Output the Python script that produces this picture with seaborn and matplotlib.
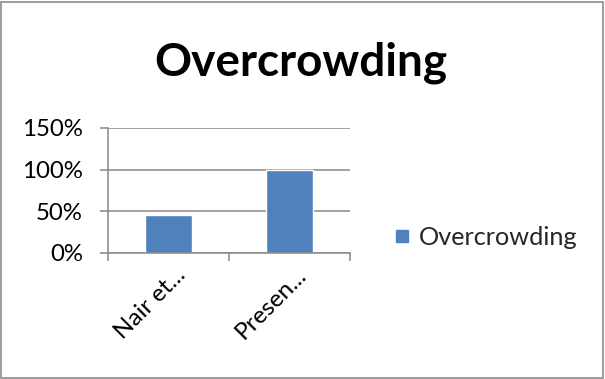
import matplotlib
matplotlib.use("Agg")
import matplotlib.pyplot as plt
import matplotlib.transforms as mtransforms
from matplotlib.patches import Rectangle
from matplotlib.lines import Line2D
import seaborn as sns
import pandas as pd

categories = ["Nair et...", "Presen..."]
values = [45, 100]
series_name = "Overcrowding"
y_ticks = [0, 50, 100, 150]
y_tick_labels = ["0%", "50%", "100%", "150%"]

sns.set_theme(style="white")
plt.rcParams["font.family"] = ["Lato", "DejaVu Sans"]

df = pd.DataFrame({"category": categories, "value": values})

fig = plt.figure(figsize=(6.05, 3.79), dpi=100)
fig.patch.set_facecolor("white")
ax = fig.add_axes([0.1785, 0.3325, 0.4, 0.3298])

bar_color = "#4f81bd"
sns.barplot(data=df, x="category", y="value", color=bar_color, width=0.39,
            saturation=1, ax=ax)

ax.set_ylim(0, 150)
ax.set_xlim(-0.5, 1.5)
ax.set_yticks(y_ticks)
ax.set_yticklabels(y_tick_labels, fontsize=17.3, color="#000000")
ax.yaxis.grid(True, color="#878787", linewidth=1.1)
ax.set_axisbelow(True)
ax.set_xlabel("")
ax.set_ylabel("")

for side in ["top", "right"]:
    ax.spines[side].set_visible(False)
for side in ["left", "bottom"]:
    ax.spines[side].set_color("#878787")
    ax.spines[side].set_linewidth(1.1)

ax.tick_params(axis="y", which="major", direction="out", length=6,
               width=1.1, color="#878787", pad=12, left=True)

# category labels rotated under the axis; ticks sit at category boundaries
ax.set_xticks([0, 1])
ax.set_xticklabels(categories, rotation=45, ha="right", rotation_mode="anchor",
                   fontsize=17.5, color="#000000")
ax.tick_params(axis="x", which="major", length=0, pad=8)
shift = mtransforms.ScaledTranslation(6 / 100, 0, fig.dpi_scale_trans)
for lbl in ax.get_xticklabels():
    lbl.set_transform(lbl.get_transform() + shift)
ax.set_xticks([-0.5, 0.5, 1.5], minor=True)
ax.tick_params(axis="x", which="minor", direction="out", length=6,
               width=1.1, color="#878787", bottom=True)

fig.text(0.498, 0.802, "Overcrowding", ha="center", va="baseline",
         fontsize=33, fontweight="bold", color="#000000")

handle = Line2D([], [], marker="s", linestyle="none", markersize=8.6,
                markerfacecolor=bar_color, markeredgecolor=bar_color)
fig.legend([handle], [series_name], loc="center left",
           bbox_to_anchor=(0.65, 0.373), frameon=False, fontsize=18.2,
           handlelength=0.7, handletextpad=0.3, borderaxespad=0, borderpad=0)

fig.patches.append(Rectangle((0.002, 0.003), 0.995, 0.993, transform=fig.transFigure,
                             fill=False, edgecolor="#8c8c8c", linewidth=1.2))

fig.savefig("out.png", dpi=100)
